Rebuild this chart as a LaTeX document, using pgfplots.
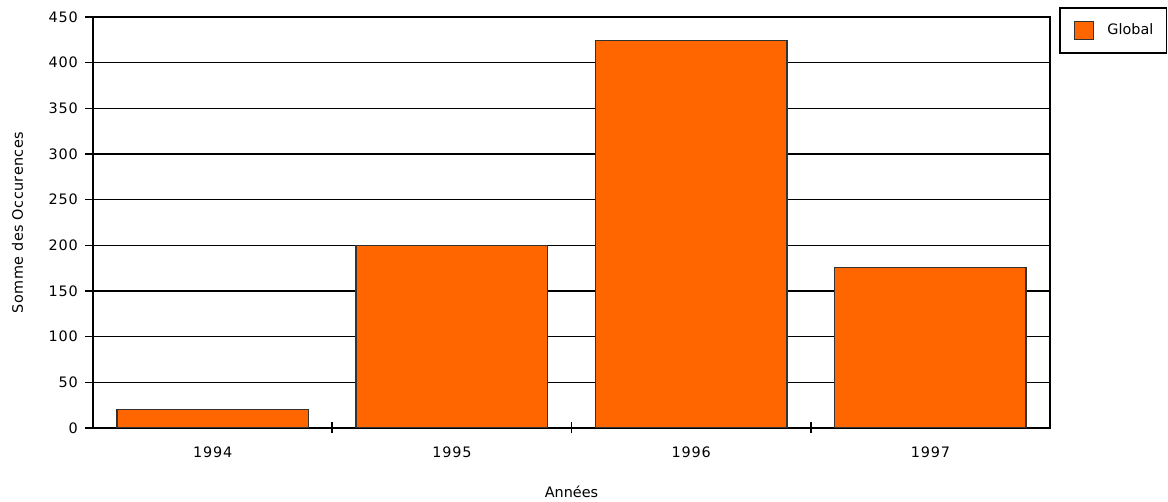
\documentclass[border=0pt]{standalone}
\usepackage{pgfplots}
\pgfplotsset{compat=1.18}
\usepackage{fontspec}
\setmainfont{DejaVu Sans}
\newfontfamily\tickfont[LetterSpace=6]{DejaVu Sans}
\newfontfamily\ylabfont[LetterSpace=3]{DejaVu Sans}
\definecolor{barorange}{HTML}{FF6600}
\begin{document}
\fontsize{7.2pt}{8.6pt}\selectfont
\begin{tikzpicture}[x=1pt,y=1pt]
\path[use as bounding box] (0,0) rectangle (584,251);
\begin{axis}[
  at={(46.5pt,37pt)}, anchor=south west,
  scale only axis,
  width=478.5pt, height=205.5pt,
  xmin=-0.5, xmax=3.5,
  ymin=0, ymax=450,
  ytick={0,50,...,450},
  xtick={0,1,2,3},
  xticklabels={1994,1995,1996,1997},
  tick pos=left,
  major x tick style={draw=none},
  extra x ticks={0.5,1.5,2.5},
  extra x tick labels={},
  extra x tick style={major tick length=5.5pt, tick align=center, major x tick style={draw=black, line width=0.8pt}, grid=none},
  ymajorgrids,
  major grid style={black, line width=0.8pt},
  axis line style={black, line width=0.8pt},
  ytick align=outside,
  major tick length=4pt,
  ytick style={black, line width=0.8pt},
  /pgf/number format/assume math mode=true,
  ticklabel style={font=\tickfont\fontsize{7.2pt}{8.6pt}\selectfont},
  xticklabel style={yshift=-7pt},
  yticklabel style={xshift=-1pt},
  ylabel={\ylabfont Somme des Occurences},
  xlabel={Années},
  every axis y label/.style={at={(axis description cs:-0.079,0.5)}, rotate=90, anchor=center},
  every axis x label/.style={at={(axis description cs:0.5,-0.156)}, anchor=center},
  label style={font=\fontsize{7.2pt}{8.6pt}\selectfont},
  legend style={at={(1.0094,1.0243)}, anchor=north west, draw=black, line width=0.9pt,
    inner xsep=0pt, inner ysep=0pt, font=\fontsize{7.2pt}{8.6pt}\selectfont,
    nodes={inner xsep=6.5pt, inner ysep=0pt},
    legend cell align=left},
  legend image code/.code={\path[draw=none, fill=none] (-7.5pt,-11.25pt) rectangle (9.5pt,11.25pt);
    \path[draw=black!80, fill=barorange, line width=0.6pt] (0pt,-4.5pt) rectangle (9.5pt,4.5pt);},
]
\addplot[ybar, bar width=0.8, fill=barorange, draw=black!80, line width=0.7pt]
  coordinates {(0,20) (1,200) (2,424) (3,176)};
\addlegendentry{Global}
\end{axis}
\end{tikzpicture}
\end{document}
